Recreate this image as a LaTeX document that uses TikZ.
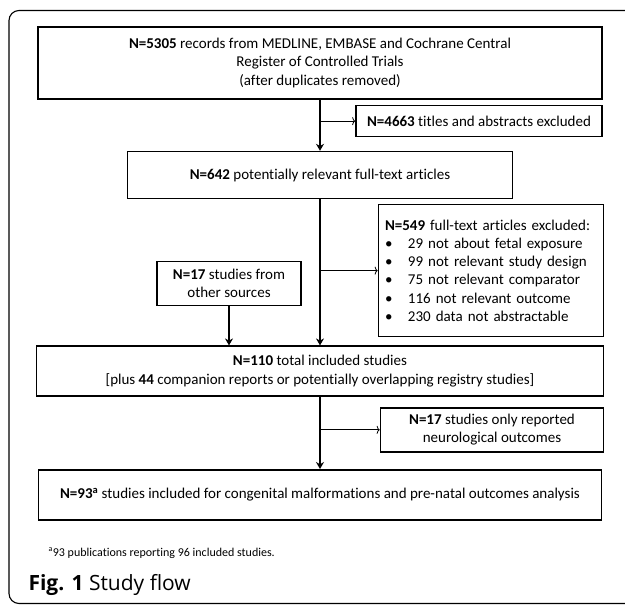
\documentclass[tikz,border=0pt]{standalone}
\usepackage{fontspec}
\setmainfont[Ligatures=NoCommon]{Carlito}
\newfontfamily\captionfont{Open Sans}
\usetikzlibrary{positioning,arrows.meta}

\begin{document}
\begin{tikzpicture}[
    x=1pt, y=1pt,
    font=\fontsize{15}{18.3}\selectfont,
    box/.style={rectangle, draw, line width=1.6pt, align=center, inner sep=0pt},
    listbox/.style={rectangle, draw, line width=1.6pt, text width=212pt, align=left, inner xsep=6.5pt, inner ysep=0pt},
    arrow/.style={-{Stealth[length=7pt,width=8pt]}, line width=1.6pt},
    thin_arrow/.style={-{To[length=3pt,width=8pt]}, line width=0.8pt},
    frame/.style={draw, line width=1.1pt, rounded corners=10pt}
]

\useasboundingbox (0,0) rectangle (625,-605);

% Outer frame
\draw[frame] (9,-10.5) rectangle (660,-603.5);

% Main flow
\node[box, minimum width=564pt, minimum height=72pt] (records) at (320,-63) {\textbf{N=5305} records from MEDLINE, EMBASE and Cochrane Central\\Register of Controlled Trials\\(after duplicates removed)};

\node[box, below=51pt of records, minimum width=385pt, minimum height=47pt] (fulltext) {\textbf{N=642} potentially relevant full-text articles};

\node[box, below=146pt of fulltext, minimum width=567pt, minimum height=50pt] (included) {\textbf{N=110} total included studies\\{[}plus \textbf{44} companion reports or potentially overlapping registry studies]};

\node[box, below=72pt of included, minimum width=563pt, minimum height=50pt] (final) {\textbf{N=93\textsuperscript{a}} studies included for congenital malformations and pre-natal outcomes analysis};

% Exclusions
\node[box, below=5pt of records.south east, anchor=north east, minimum width=246pt, minimum height=31pt] (excl_titles) {\textbf{N=4663} titles and abstracts excluded};

\node[listbox, above=8pt of included.north east, anchor=south east, minimum height=132pt] (excl_fulltext) {\textbf{N=549} full-text articles excluded:\\
\makebox[23pt][l]{\textbullet}29 not about fetal exposure\\
\makebox[23pt][l]{\textbullet}99 not relevant study design\\
\makebox[23pt][l]{\textbullet}75 not relevant comparator\\
\makebox[23pt][l]{\textbullet}116 not relevant outcome\\
\makebox[23pt][l]{\textbullet}230 data not abstractable};

\node[box, below=10pt of included.south east, anchor=north east, minimum width=223pt, minimum height=44pt] (excl_neuro) {\textbf{N=17} studies only reported\\neurological outcomes};

% Other sources
\node[box, above=39pt of included.north, xshift=-91pt, minimum width=144pt, minimum height=44pt] (other) {\textbf{N=17} studies from\\other sources};

% Arrows
\draw[arrow] (records) -- (fulltext);
\draw[arrow] (fulltext) -- (included);
\draw[arrow] (included) -- (final);
\draw[arrow] (other) -- (other |- included.north);

\draw[thin_arrow] (excl_titles.west -| records.south) -- (excl_titles);
\draw[thin_arrow] (excl_fulltext.west -| fulltext.south) -- (excl_fulltext);
\draw[thin_arrow] (excl_neuro.west -| included.south) -- (excl_neuro);

% Footnote and caption
\node[anchor=base west, font=\fontsize{12}{14}\selectfont] (footnote) at (45,-556) {\textsuperscript{a}93 publications reporting 96 included studies.};
\node[anchor=west, font=\captionfont\fontsize{21}{23}\selectfont] (caption) at (25,-585) {\textbf{Fig. 1} Study flow};

\end{tikzpicture}
\end{document}
